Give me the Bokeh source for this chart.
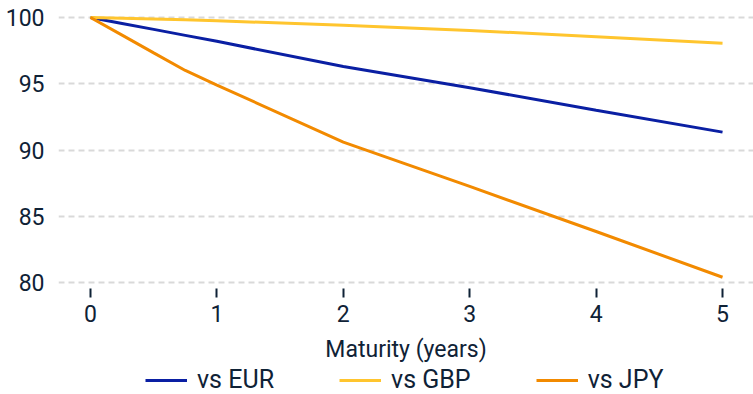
from bokeh.plotting import figure
from bokeh.layouts import column
from bokeh.models import Range1d, Legend, LegendItem, FixedTicker
from bokeh.embed import file_html
from bokeh.resources import INLINE

maturity = [0, 0.25, 0.5, 0.75, 1, 2, 3, 4, 5]
vs_eur = [100, 99.55, 99.1, 98.65, 98.2, 96.3, 94.7, 93.0, 91.35]
vs_gbp = [100, 99.94, 99.88, 99.82, 99.75, 99.42, 99.02, 98.55, 98.06]
vs_jpy = [100, 98.67, 97.33, 96.0, 94.9, 90.6, 87.25, 83.85, 80.4]
x_ticks = [0, 1, 2, 3, 4, 5]
y_ticks = [80, 85, 90, 95, 100]
series_names = ["vs EUR", "vs GBP", "vs JPY"]
series_colors = ["#0a1fa3", "#ffc52e", "#f28a00"]
series_values = [vs_eur, vs_gbp, vs_jpy]

TEXT = "#0f2236"
FONT = "Roboto"

p = figure(width=753, height=366, output_backend="svg", toolbar_location=None,
           x_range=Range1d(-0.253, 5.245), y_range=Range1d(79.55, 101.28),
           min_border_left=58, min_border_right=0, min_border_top=0, min_border_bottom=78)
p.outline_line_color = None
p.background_fill_color = "white"

for vals, col in zip(series_values, series_colors):
    p.line(maturity, vals, line_color=col, line_width=3)

p.xgrid.grid_line_color = None
p.ygrid.grid_line_color = "#d9d9d9"
p.ygrid.grid_line_width = 2
p.ygrid.grid_line_dash = "6 4"

p.xaxis.ticker = FixedTicker(ticks=x_ticks)
p.yaxis.ticker = FixedTicker(ticks=y_ticks)
p.xaxis.minor_tick_line_color = None
p.yaxis.minor_tick_line_color = None
p.xaxis.axis_line_color = None
p.yaxis.axis_line_color = None
p.yaxis.major_tick_line_color = None
p.xaxis.major_tick_line_color = TEXT
p.xaxis.major_tick_line_width = 2
p.xaxis.major_tick_out = 9
p.xaxis.major_tick_in = 0
p.yaxis.major_label_standoff = 8
p.xaxis.major_label_standoff = 7
for ax in (p.xaxis, p.yaxis):
    ax.major_label_text_font = FONT
    ax.major_label_text_font_size = "23px"
    ax.major_label_text_color = TEXT
p.xaxis.axis_label = "Maturity (years)"
p.xaxis.axis_label_text_font = FONT
p.xaxis.axis_label_text_font_size = "23px"
p.xaxis.axis_label_text_font_style = "normal"
p.xaxis.axis_label_text_color = TEXT
p.xaxis.axis_label_standoff = 11

# legend strip (lines drawn out of view; only their legend swatches show)
lg = figure(width=753, height=28, output_backend="svg", toolbar_location=None,
            x_range=Range1d(0, 1), y_range=Range1d(0, 1),
            min_border_left=58, min_border_right=0, min_border_top=0, min_border_bottom=0)
lg.axis.visible = False
lg.grid.visible = False
lg.outline_line_color = None
items = []
for name, vals, col in zip(series_names, series_values, series_colors):
    r = lg.line(maturity, vals, line_color=col, line_width=3)
    items.append(LegendItem(label=name, renderers=[r]))
legend = Legend(items=items, orientation="horizontal", location=(87, 0))
legend.label_text_font = FONT
legend.label_text_font_size = "25px"
legend.label_text_color = TEXT
legend.glyph_width = 42
legend.glyph_height = 28
legend.label_height = 28
legend.label_standoff = 10
legend.spacing = 65
legend.padding = 0
legend.margin = 0
legend.border_line_color = None
legend.background_fill_alpha = 0
lg.add_layout(legend, "center")

layout = column(p, lg, spacing=0)
open("out.html", "w").write(file_html(layout, INLINE))
